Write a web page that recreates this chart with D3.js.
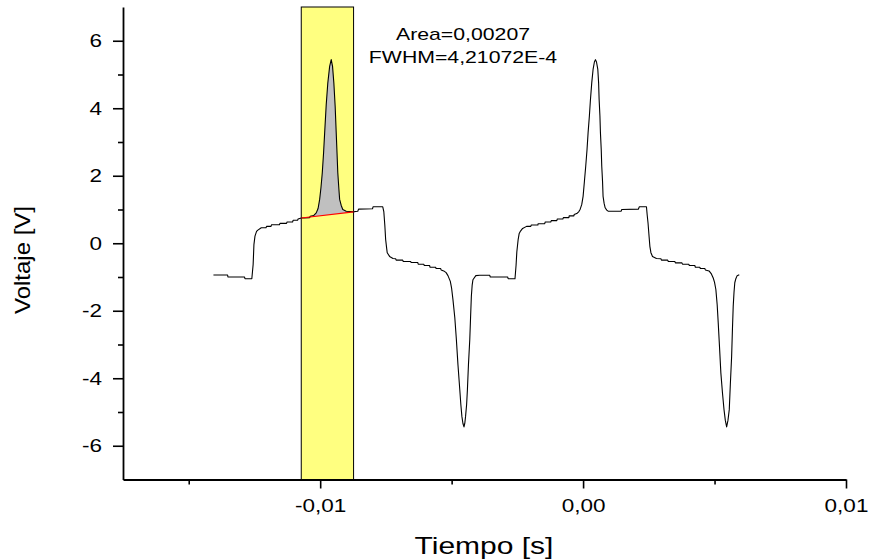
<!DOCTYPE html>
<html>
<head>
<meta charset="utf-8">
<script src="https://cdn.jsdelivr.net/npm/d3@7"></script>
<style>
  html, body { margin: 0; padding: 0; background: #fff; }
  svg { display: block; }
  text { font-family: "Liberation Sans", Arial, Helvetica, sans-serif; fill: #000; }
</style>
</head>
<body>
<svg id="chart" width="870" height="559"></svg>
<script>
// Measured signal: time (s) and voltage (V)
const time = [
  -0.01406, -0.01352, -0.01351, -0.01288, -0.01286, -0.01260, -0.01255, -0.01252, -0.01248, -0.01242,
  -0.01237, -0.01224, -0.01206, -0.01204, -0.01187, -0.01185, -0.01155, -0.01153, -0.01128, -0.01126,
  -0.01105, -0.01103, -0.01086, -0.01084, -0.01072, -0.01059, -0.01040, -0.01038, -0.01025, -0.01015,
  -0.01008, -0.01002, -0.00997, -0.00992, -0.00987, -0.00983, -0.00977, -0.00971, -0.00964, -0.00958,
  -0.00953, -0.00948, -0.00943, -0.00939, -0.00936, -0.00933, -0.00929, -0.00926, -0.00920, -0.00914,
  -0.00901, -0.00888, -0.00873, -0.00865, -0.00857, -0.00854, -0.00801, -0.00799, -0.00762, -0.00758,
  -0.00754, -0.00751, -0.00747, -0.00745, -0.00736, -0.00723, -0.00713, -0.00711, -0.00686, -0.00684,
  -0.00656, -0.00654, -0.00629, -0.00627, -0.00606, -0.00604, -0.00584, -0.00582, -0.00561, -0.00559,
  -0.00542, -0.00540, -0.00530, -0.00521, -0.00514, -0.00505, -0.00500, -0.00495, -0.00488, -0.00482,
  -0.00476, -0.00469, -0.00465, -0.00461, -0.00457, -0.00453, -0.00450, -0.00447, -0.00443, -0.00440,
  -0.00436, -0.00431, -0.00428, -0.00425, -0.00422, -0.00419, -0.00408, -0.00393, -0.00355, -0.00353,
  -0.00287, -0.00285, -0.00259, -0.00255, -0.00252, -0.00247, -0.00243, -0.00238, -0.00230, -0.00215,
  -0.00199, -0.00197, -0.00172, -0.00171, -0.00146, -0.00144, -0.00123, -0.00121, -0.00100, -0.00098,
  -0.00077, -0.00075, -0.00054, -0.00053, -0.00035, -0.00034, -0.00024, -0.00016, -0.00011, -0.00005,
   0.00000,  0.00005,  0.00010,  0.00015,  0.00019,  0.00024,  0.00028,  0.00033,  0.00038,  0.00043,
   0.00047,  0.00051,  0.00056,  0.00059,  0.00061,  0.00064,  0.00066,  0.00069,  0.00071,  0.00074,
   0.00076,  0.00080,  0.00084,  0.00090,  0.00095,  0.00145,  0.00147,  0.00210,  0.00214,  0.00241,
   0.00244,  0.00247,  0.00251,  0.00254,  0.00258,  0.00264,  0.00279,  0.00296,  0.00298,  0.00322,
   0.00324,  0.00349,  0.00351,  0.00376,  0.00378,  0.00402,  0.00404,  0.00425,  0.00427,  0.00444,
   0.00446,  0.00463,  0.00465,  0.00479,  0.00488,  0.00495,  0.00500,  0.00505,  0.00510,  0.00514,
   0.00519,  0.00524,  0.00530,  0.00536,  0.00541,  0.00546,  0.00551,  0.00556,  0.00560,  0.00565,
   0.00568,  0.00571,  0.00574,  0.00577,  0.00581,  0.00586,  0.00594
];
const voltage = [
  -0.94, -0.94, -1.00, -1.00, -1.05, -1.05, -0.63, -0.04,  0.21,  0.35,
   0.39,  0.46,  0.46,  0.50,  0.50,  0.55,  0.55,  0.59,  0.59,  0.63,
   0.63,  0.68,  0.68,  0.72,  0.75,  0.75,  0.76,  0.80,  0.82,  0.90,
   1.03,  1.30,  1.65,  2.09,  2.69,  3.27,  4.11,  4.75,  5.24,  5.44,
   5.24,  4.75,  4.05,  3.27,  2.69,  2.09,  1.62,  1.30,  1.12,  1.00,
   0.95,  0.94,  0.93,  0.94,  0.95,  1.01,  1.02,  1.08,  1.08,  0.94,
   0.52,  0.11, -0.16, -0.28, -0.39, -0.45, -0.46, -0.50, -0.50, -0.54,
  -0.54, -0.57, -0.57, -0.62, -0.62, -0.66, -0.66, -0.71, -0.71, -0.75,
  -0.75, -0.79, -0.82, -0.87, -0.96, -1.13, -1.34, -1.67, -2.20, -2.85,
  -3.59, -4.34, -4.78, -5.13, -5.34, -5.44, -5.34, -5.13, -4.78, -4.34,
  -3.59, -2.85, -2.20, -1.57, -1.25, -1.08, -0.96, -0.95, -0.95, -1.00,
  -1.00, -1.05, -1.05, -0.66, -0.25,  0.11,  0.29,  0.36,  0.44,  0.50,
   0.50,  0.54,  0.54,  0.58,  0.58,  0.63,  0.63,  0.67,  0.67,  0.72,
   0.72,  0.76,  0.76,  0.81,  0.81,  0.85,  0.88,  0.94,  1.01,  1.15,
   1.39,  1.83,  2.28,  2.78,  3.27,  3.78,  4.26,  4.76,  5.15,  5.37,
   5.44,  5.37,  5.15,  4.76,  4.26,  3.78,  3.27,  2.78,  2.28,  1.83,
   1.39,  1.18,  1.05,  0.98,  0.95,  0.95,  1.00,  1.01,  1.08,  1.08,
   0.82,  0.60,  0.20, -0.09, -0.28, -0.39, -0.45, -0.46, -0.50, -0.50,
  -0.54, -0.54, -0.58, -0.58, -0.62, -0.62, -0.66, -0.66, -0.71, -0.71,
  -0.75, -0.75, -0.79, -0.82, -0.91, -1.03, -1.16, -1.37, -1.82, -2.36,
  -3.09, -3.84, -4.42, -4.93, -5.25, -5.44, -5.25, -4.93, -4.19, -3.35,
  -2.56, -1.87, -1.46, -1.17, -1.05, -0.96, -0.93
];

// Integration window and its linear baseline
const windowTime = [-0.01072, -0.00873];
const baselineVoltage = [0.75, 0.93];
const peakLabels = ["Area=0,00207", "FWHM=4,21072E-4"];

// Axis ticks
const xMajor = [-0.01, 0.00, 0.01];
const xMajorLabels = ["-0,01", "0,00", "0,01"];
const xMinor = [-0.015, -0.005, 0.005];
const yMajor = [-6, -4, -2, 0, 2, 4, 6];
const yMajorLabels = ["-6", "-4", "-2", "0", "2", "4", "6"];
const yMinor = [-5, -3, -1, 1, 3, 5];

const SX = 1.25; // horizontal widening of the lettering

const svg = d3.select("#chart");
const x = d3.scaleLinear().domain([-0.0175, 0.01]).range([123, 846]);
const y = d3.scaleLinear().domain([-7, 7]).range([479.5, 7]);

const points = time.map((t, i) => ({ t, v: voltage[i] }));

// Highlighted integration window
svg.append("rect")
  .attr("x", x(windowTime[0]))
  .attr("y", y(7))
  .attr("width", x(windowTime[1]) - x(windowTime[0]))
  .attr("height", y(-7) - y(7))
  .attr("fill", "#ffff80")
  .attr("stroke", "#000")
  .attr("stroke-width", 1);

// Integrated peak: curve inside window, closed along the baseline
const inWindow = points.filter(p => p.t >= windowTime[0] && p.t <= windowTime[1]);
svg.append("path")
  .attr("d", d3.line().x(p => x(p.t)).y(p => y(p.v))(inWindow) + "Z")
  .attr("fill", "#c0c0c0")
  .attr("stroke", "none");

// Signal trace
svg.append("path")
  .attr("d", d3.line().x(p => x(p.t)).y(p => y(p.v))(points))
  .attr("fill", "none")
  .attr("stroke", "#000")
  .attr("stroke-width", 1.1)
  .attr("stroke-linejoin", "round");

// Baseline
svg.append("line")
  .attr("x1", x(windowTime[0])).attr("y1", y(baselineVoltage[0]))
  .attr("x2", x(windowTime[1])).attr("y2", y(baselineVoltage[1]))
  .attr("stroke", "#ff0000")
  .attr("stroke-width", 1.1);

// Widen text glyphs horizontally around their anchor
function widen(sel) {
  sel.each(function () {
    const t = d3.select(this);
    const tx = +t.attr("x") || 0;
    t.attr("x", 0).attr("transform", `translate(${tx},0) scale(${SX},1)`);
  });
}

// Minor ticks
svg.append("g")
  .attr("transform", `translate(0,${y(-7)})`)
  .call(d3.axisBottom(x).tickValues(xMinor).tickSize(5).tickFormat(""))
  .call(g => g.select(".domain").remove())
  .call(g => g.selectAll("line").attr("stroke-width", 1.6));
svg.append("g")
  .attr("transform", `translate(${x(-0.0175)},0)`)
  .call(d3.axisLeft(y).tickValues(yMinor).tickSize(5).tickFormat(""))
  .call(g => g.select(".domain").remove())
  .call(g => g.selectAll("line").attr("stroke-width", 1.6));

// Bottom axis
const xAxis = svg.append("g")
  .attr("transform", `translate(0,${y(-7)})`)
  .call(d3.axisBottom(x).tickValues(xMajor).tickSize(9).tickSizeOuter(0).tickPadding(11)
    .tickFormat((d, i) => xMajorLabels[i]));
xAxis.select(".domain").attr("stroke-width", 1.8);
xAxis.selectAll("line").attr("stroke-width", 1.6);
xAxis.selectAll("text").attr("font-size", 18).attr("font-family", null).call(widen);

// Left axis
const yAxis = svg.append("g")
  .attr("transform", `translate(${x(-0.0175)},0)`)
  .call(d3.axisLeft(y).tickValues(yMajor).tickSize(10).tickSizeOuter(0).tickPadding(11)
    .tickFormat((d, i) => yMajorLabels[i]));
yAxis.select(".domain").attr("stroke-width", 1.8);
yAxis.selectAll("line").attr("stroke-width", 1.6);
yAxis.selectAll("text").attr("font-size", 18).attr("font-family", null).call(widen);

// Axis titles
svg.append("text")
  .attr("transform", `translate(484,554) scale(${SX},1)`)
  .attr("text-anchor", "middle")
  .attr("font-size", 24)
  .text("Tiempo [s]");
svg.append("text")
  .attr("transform", "translate(29.5,260) scale(0.9,1) rotate(-90)")
  .attr("text-anchor", "middle")
  .attr("font-size", 24)
  .text("Voltaje [V]");

// Peak annotation
peakLabels.forEach((s, i) => {
  svg.append("text")
    .attr("transform", `translate(463,${40 + i * 23.3}) scale(${SX},1)`)
    .attr("text-anchor", "middle")
    .attr("font-size", 17)
    .text(s);
});
</script>
</body>
</html>
